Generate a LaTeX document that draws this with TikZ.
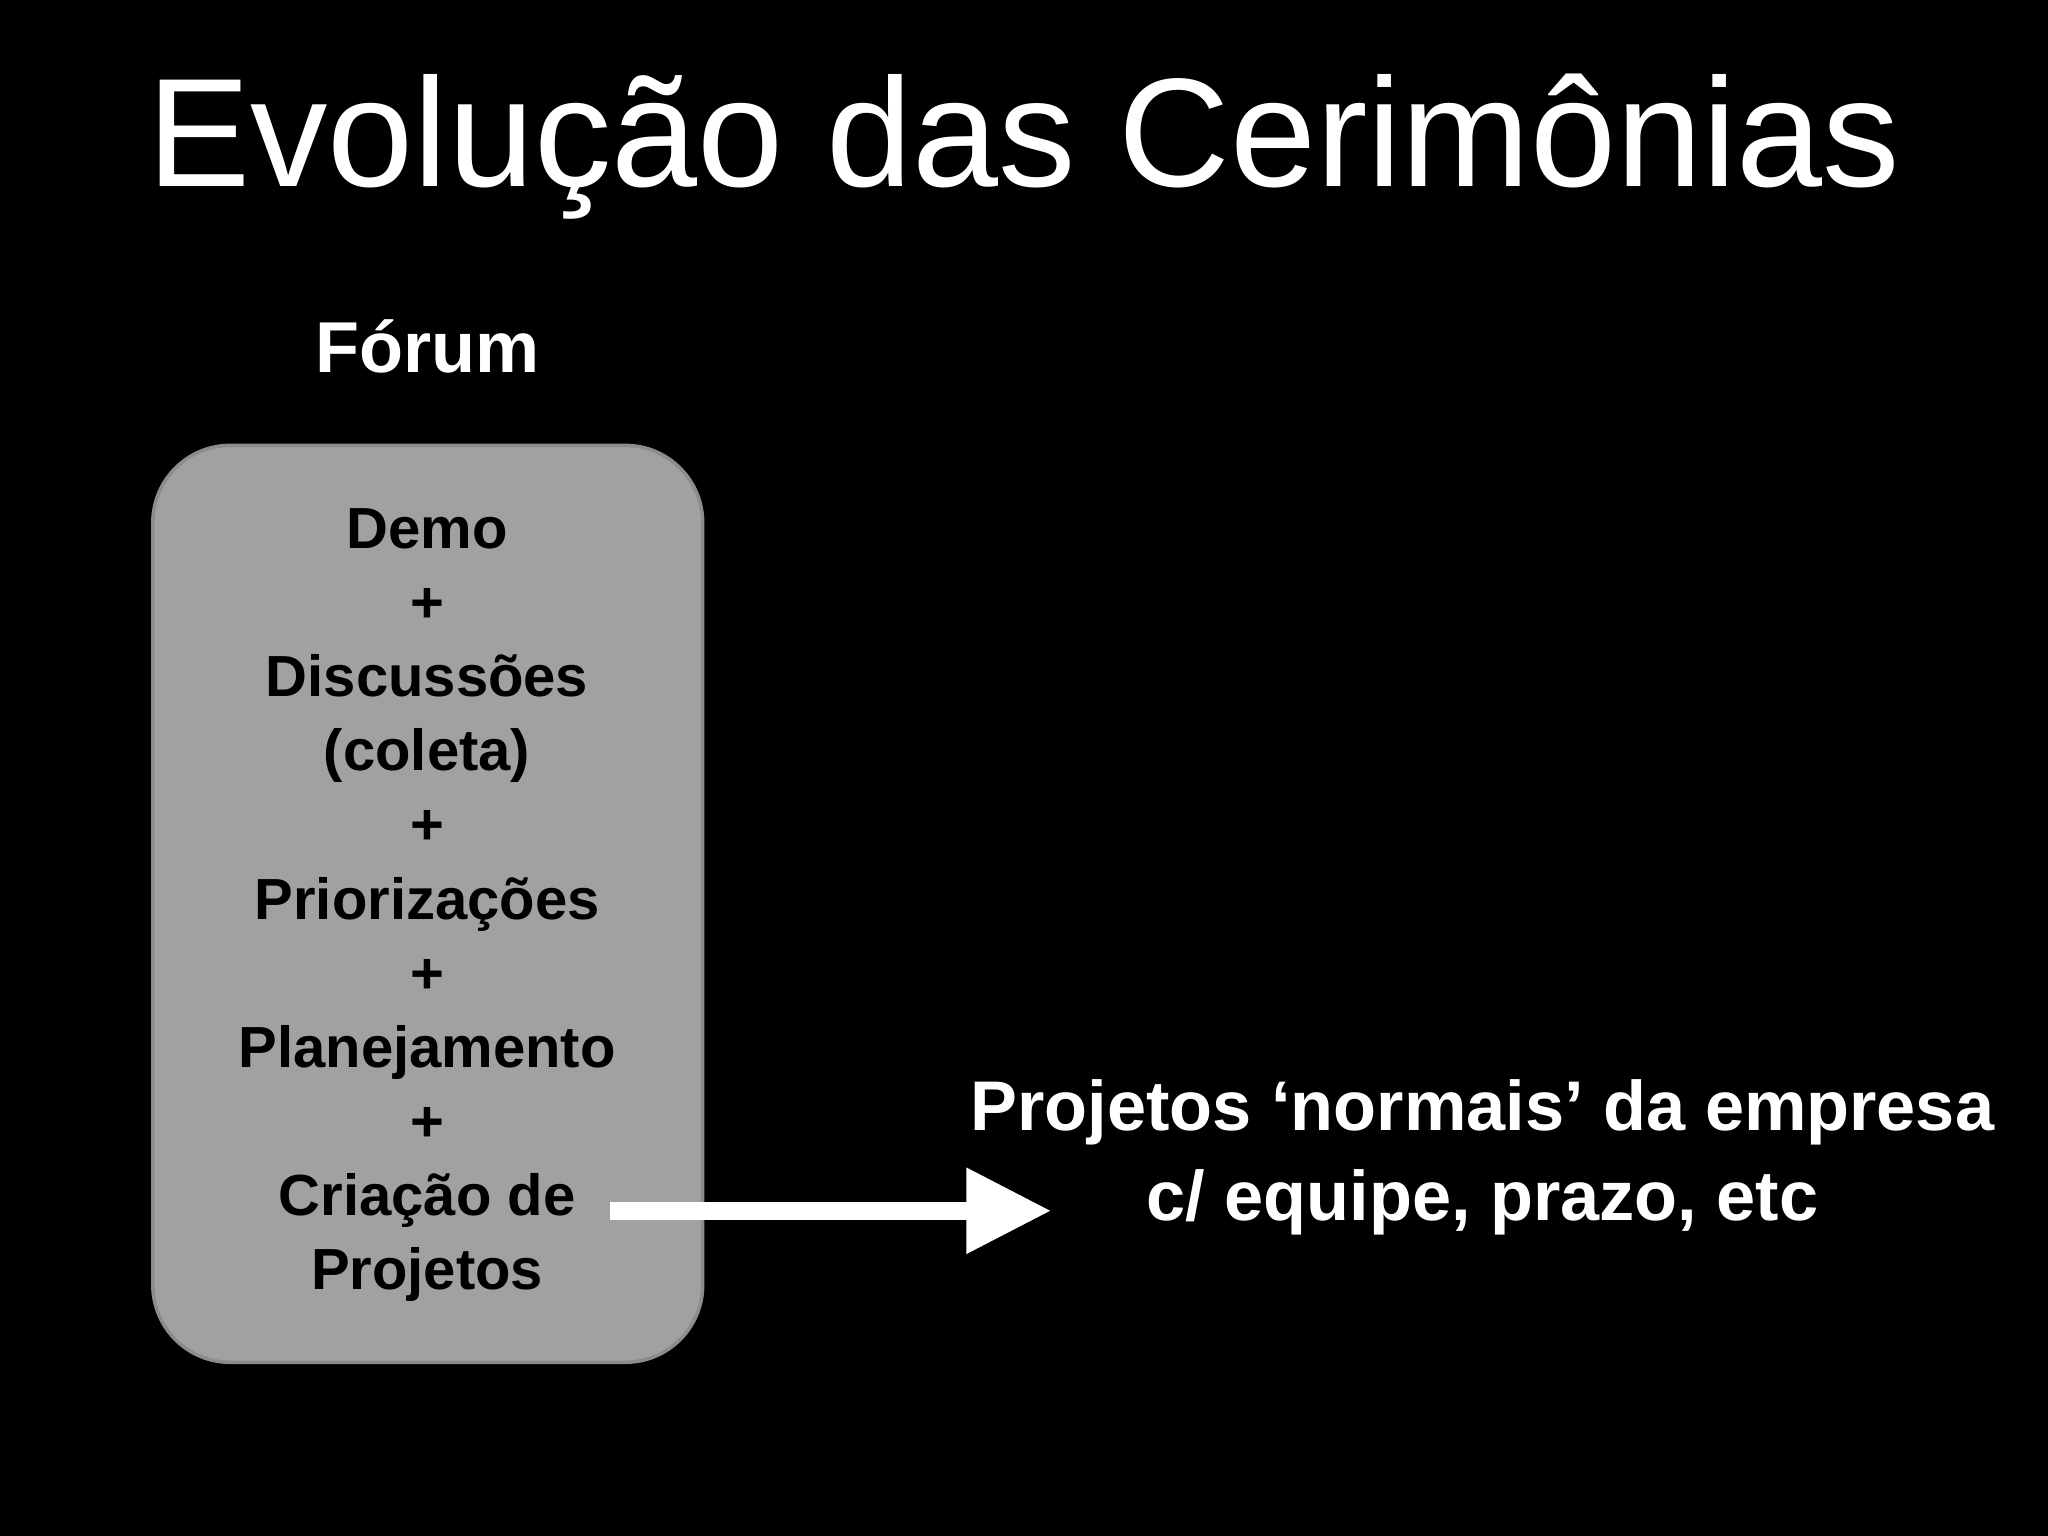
\documentclass[tikz,border=0pt]{standalone}
\usepackage{fontspec}
\setmainfont{Liberation Sans}
\usetikzlibrary{arrows.meta}
\begin{document}
\begin{tikzpicture}[x=0.013061cm,y=-0.013061cm,
  bold/.style={font=\bfseries\fontsize{20.5}{25}\selectfont,text=white,align=center,inner sep=0}]
\fill[black] (0,0) rectangle (1568,1176);
\useasboundingbox (0,0) rectangle (1568,1176);
\node[text=white,font=\fontsize{44}{50}\selectfont,inner sep=0] (title) at (784,112) {Evolução das Cerimônias};
\node[bold] (forum) at (327,265) {Fórum};
\draw[fill=black!37,draw=black!45,line width=1pt,rounded corners=22pt] (117,341) rectangle (538,1043);
\node[inner sep=0,align=center,font=\bfseries\fontsize{16.5}{21.1}\selectfont,text=black] (list) at (327,693)
 {Demo\\+\\Discussões\\(coleta)\\+\\Priorizações\\+\\Planejamento\\+\\Criação de\\Projetos};
\node[bold,font=\bfseries\fontsize{20}{25.5}\selectfont] (proj) at (1135,886) {Projetos ‘normais' da empresa\\c/ equipe, prazo, etc};
\coordinate (a) at (467,927);
\coordinate (b) at (805,927);
\draw[white,line width=1.83mm,-{Triangle[length=8.5mm,width=8.1mm]}] (a) -- (b);
\end{tikzpicture}
\end{document}
